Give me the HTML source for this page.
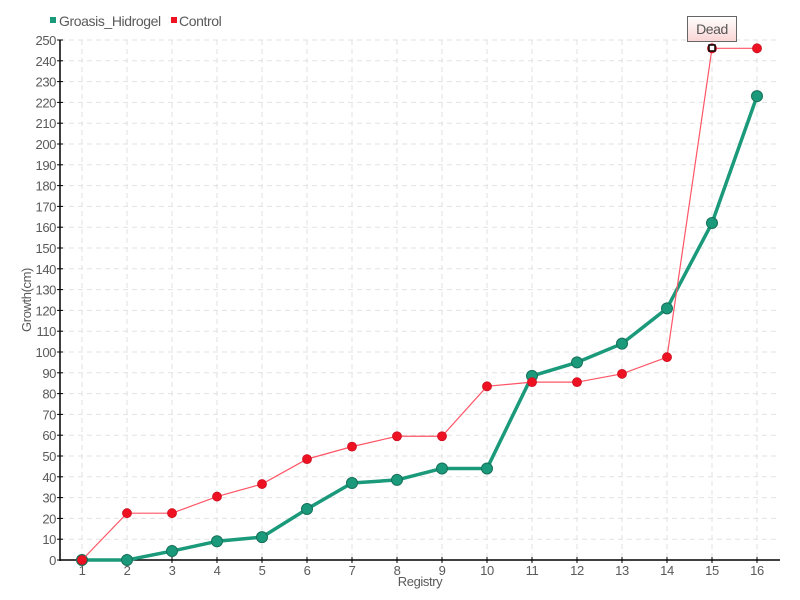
<!DOCTYPE html>
<html><head><meta charset="utf-8"><style>
html,body{margin:0;padding:0;background:#fff;}
svg{display:block;font-family:"Liberation Sans",sans-serif;}
text{letter-spacing:-0.4px;}
</style></head><body>
<svg width="800" height="600" viewBox="0 0 800 600" xmlns="http://www.w3.org/2000/svg">
<g id="grid" stroke="#e2e2e2" stroke-width="1" stroke-dasharray="5,4"></g>
<g id="yl" fill="#5a5a5a" font-size="13" text-anchor="end"></g>
<g id="xl" fill="#5a5a5a" font-size="13" text-anchor="middle"></g>
<line x1="60" y1="40" x2="60" y2="561" stroke="#000" stroke-width="1.5"/>
<line x1="60" y1="560" x2="780" y2="560" stroke="#000" stroke-width="1.5"/>
<g id="ticks" stroke="#000" stroke-width="1"></g>
<text x="420" y="586" fill="#5a5a5a" font-size="13" text-anchor="middle">Registry</text>
<text transform="translate(31,300) rotate(-90)" fill="#5a5a5a" font-size="13" text-anchor="middle">Growth(cm)</text>
<rect x="50" y="17" width="6" height="6" fill="#1a9a7a"/>
<text x="59" y="26" fill="#5a5a5a" font-size="14">Groasis_Hidrogel</text>
<rect x="171" y="17" width="6" height="6" fill="#ee1122"/>
<text x="179" y="26" fill="#5a5a5a" font-size="14">Control</text>
<g id="series"></g>
<defs><linearGradient id="tg" x1="0" y1="0" x2="0" y2="1"><stop offset="0" stop-color="#fff"/><stop offset="1" stop-color="#fad4d4"/></linearGradient></defs>
<rect x="687.5" y="16.5" width="49" height="25" fill="url(#tg)" stroke="#666"/>
<text x="712" y="34" fill="#555" font-size="14" text-anchor="middle">Dead</text>
<rect x="709" y="45" width="6" height="6" fill="#fff" stroke="#000" stroke-width="1.5"/>
<script>
var ns="http://www.w3.org/2000/svg";
function el(p,t,a,tx){var e=document.createElementNS(ns,t);for(var k in a)e.setAttribute(k,a[k]);if(tx!=null)e.textContent=tx;document.getElementById(p).appendChild(e);return e;}
function X(i){return 82+45*(i-1);}function Y(v){return 560-2.08*v;}
for(var v=0;v<=250;v+=10){var y=Y(v);if(v>0)el("grid","line",{x1:60,y1:y,x2:780,y2:y});el("yl","text",{x:56,y:y+5},v);el("ticks","line",{x1:57,y1:y,x2:63,y2:y});}
for(var i=1;i<=16;i++){el("grid","line",{x1:X(i),y1:40,x2:X(i),y2:560});el("xl","text",{x:X(i),y:575},i);el("ticks","line",{x1:X(i),y1:557,x2:X(i),y2:563});}
var g=[0,0,4.3,9,11,24.5,37,38.5,44,44,88.5,95,104,121,162,223];
var r=[0,22.5,22.5,30.5,36.5,48.5,54.5,59.5,59.5,83.5,85.5,85.5,89.5,97.5,246,246];
function pts(d){return d.map(function(v,i){return X(i+1)+","+Y(v)}).join(" ");}
el("series","polyline",{points:pts(g),fill:"none",stroke:"#1a9a7a","stroke-width":3.5,"stroke-linejoin":"round"});
g.forEach(function(v,i){el("series","circle",{cx:X(i+1),cy:Y(v),r:5.5,fill:"#1a9a7a",stroke:"#16705a","stroke-width":1});});
el("series","polyline",{points:pts(r),fill:"none",stroke:"#ff5566","stroke-width":1.2});
r.forEach(function(v,i){el("series","circle",{cx:X(i+1),cy:Y(v),r:4.5,fill:"#ee1122",stroke:"#cc1020","stroke-width":0.8});});
</script>
</svg>
</body></html>
